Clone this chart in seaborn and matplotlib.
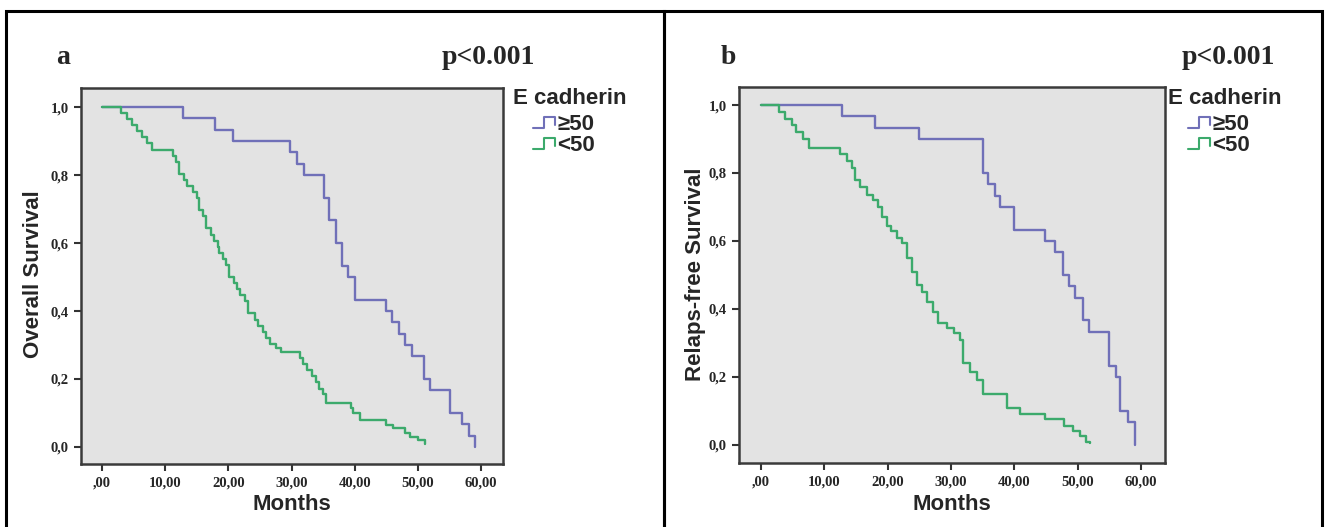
import numpy as np
import pandas as pd
import seaborn as sns
import matplotlib.pyplot as plt
from matplotlib.lines import Line2D
from matplotlib.patches import Rectangle
from matplotlib.legend_handler import HandlerBase

# Panel a: overall survival, E cadherin >=50
os_hi_months = [0, 12.9, 17.9, 20.8, 29.7, 30.9, 32.0, 35.2, 36.0, 37.1, 38.0, 39.0, 40.0,
                44.9, 45.9, 47.0, 48.0, 49.1, 50.9, 51.9, 55.0, 56.9, 58.0, 59.0]
os_hi_surv = [1.0, 0.967, 0.933, 0.9, 0.867, 0.833, 0.8, 0.733, 0.667, 0.6, 0.533, 0.5, 0.433,
              0.4, 0.367, 0.333, 0.3, 0.267, 0.2, 0.167, 0.1, 0.067, 0.033, 0.0]

# Panel a: overall survival, E cadherin <50
os_lo_months = [0, 3.1, 4.0, 4.8, 5.5, 6.3, 7.1, 8.0, 11.2, 11.8, 12.2, 13.0, 13.5, 14.4, 15.0,
                15.4, 16.0, 16.4, 17.2, 17.7, 18.3, 18.6, 19.1, 19.6, 20.1, 20.9, 21.4, 21.8,
                22.6, 23.1, 24.2, 24.7, 25.5, 26.0, 26.6, 27.6, 28.3, 31.3, 31.8, 32.4, 33.3,
                33.8, 34.4, 35.0, 35.4, 39.4, 39.8, 40.8, 45.0, 46.0, 47.9, 48.8, 50.0, 51.1]
os_lo_surv = [1.0, 0.982, 0.964, 0.946, 0.929, 0.911, 0.893, 0.875, 0.857, 0.839, 0.804, 0.786,
              0.768, 0.75, 0.732, 0.696, 0.679, 0.643, 0.625, 0.607, 0.589, 0.571, 0.554, 0.536,
              0.5, 0.482, 0.464, 0.446, 0.429, 0.393, 0.375, 0.357, 0.339, 0.321, 0.304, 0.29,
              0.28, 0.262, 0.244, 0.226, 0.208, 0.19, 0.172, 0.155, 0.13, 0.115, 0.1, 0.08,
              0.065, 0.055, 0.04, 0.03, 0.02, 0.008]

# Panel b: relaps-free survival, E cadherin >=50
rfs_hi_months = [0, 12.8, 18.0, 25.0, 35.0, 35.8, 36.9, 37.8, 40.0, 44.8, 46.4, 47.7, 48.6,
                 49.6, 50.8, 51.8, 54.9, 56.0, 56.7, 57.9, 59.0]
rfs_hi_surv = [1.0, 0.967, 0.933, 0.9, 0.8, 0.767, 0.733, 0.7, 0.633, 0.6, 0.567, 0.5, 0.467,
               0.433, 0.367, 0.333, 0.233, 0.2, 0.1, 0.067, 0.0]

# Panel b: relaps-free survival, E cadherin <50
rfs_lo_months = [0, 2.9, 3.8, 4.9, 5.6, 6.7, 7.5, 12.5, 13.5, 14.3, 14.9, 15.6, 16.7, 17.7,
                 18.5, 19.1, 19.9, 20.6, 21.4, 22.2, 23.0, 23.8, 24.6, 25.4, 26.2, 27.2, 28.0,
                 29.3, 30.4, 31.4, 31.9, 33.0, 34.1, 35.1, 38.8, 40.9, 44.9, 47.8, 49.3, 50.4,
                 51.4, 52.0]
rfs_lo_surv = [1.0, 0.98, 0.96, 0.94, 0.92, 0.9, 0.873, 0.855, 0.835, 0.815, 0.78, 0.76, 0.735,
               0.72, 0.7, 0.67, 0.645, 0.63, 0.61, 0.595, 0.55, 0.51, 0.47, 0.45, 0.42, 0.39,
               0.36, 0.345, 0.33, 0.31, 0.24, 0.215, 0.19, 0.15, 0.11, 0.09, 0.075, 0.055,
               0.04, 0.025, 0.01, 0.005]

groups = ["≥50", "<50"]
colors = ["#7070b8", "#3caa6c"]
x_ticks = [0, 10, 20, 30, 40, 50, 60]
x_tick_labels = [",00", "10,00", "20,00", "30,00", "40,00", "50,00", "60,00"]
y_ticks = [0.0, 0.2, 0.4, 0.6, 0.8, 1.0]
y_tick_labels = ["0,0", "0,2", "0,4", "0,6", "0,8", "1,0"]


def make_df(hi_m, hi_s, lo_m, lo_s):
    a = pd.DataFrame({"Months": hi_m, "Survival": hi_s, "group": groups[0]})
    b = pd.DataFrame({"Months": lo_m, "Survival": lo_s, "group": groups[1]})
    return pd.concat([a, b], ignore_index=True)


class StepHandler(HandlerBase):
    # little step glyph like the SPSS legend
    def create_artists(self, legend, orig_handle, xdescent, ydescent, width, height, fontsize, trans):
        xs = np.array([0, 0.5, 0.5, 1.0, 1.0]) * width - xdescent
        ys = np.array([0.15, 0.15, 0.85, 0.85, 0.3]) * height - ydescent
        line = Line2D(xs, ys, color=orig_handle.get_color(), lw=1.5, transform=trans)
        return [line]


sns.set_style("white")
plt.rcParams['font.family'] = ['Liberation Sans', 'DejaVu Sans']

W, H = 1326, 527
fig = plt.figure(figsize=(W / 100, H / 100), dpi=100)

panels = [
    dict(df=make_df(os_hi_months, os_hi_surv, os_lo_months, os_lo_surv),
         rect=(81, 88, 503, 464), xlim=(-3.3, 63.45), ylim=(-0.05, 1.056),
         letter="a", letter_x=63, p_x=488, ylabel="Overall Survival", ylabel_x=34,
         leg_x=513),
    dict(df=make_df(rfs_hi_months, rfs_hi_surv, rfs_lo_months, rfs_lo_surv),
         rect=(739, 87, 1165, 463), xlim=(-3.48, 63.8), ylim=(-0.053, 1.053),
         letter="b", letter_x=728, p_x=1228, ylabel="Relaps-free Survival", ylabel_x=695,
         leg_x=1168),
]

# panel frames
for x0 in [6, 664]:
    fig.patches.append(Rectangle((x0 / W, -0.05), 658 / W, 1.05 - 11 / H, fill=False,
                                 edgecolor="black", lw=2.2, transform=fig.transFigure))

for p in panels:
    l, t, r, b = p["rect"]
    ax = fig.add_axes([l / W, 1 - b / H, (r - l) / W, (b - t) / H])
    ax.set_facecolor("#e3e3e3")
    sns.lineplot(data=p["df"], x="Months", y="Survival", hue="group", hue_order=groups,
                 palette=colors, drawstyle="steps-post", estimator=None, lw=1.7,
                 legend=False, ax=ax)
    ax.set_xlim(*p["xlim"])
    ax.set_ylim(*p["ylim"])
    ax.set_xticks(x_ticks)
    ax.set_xticklabels(x_tick_labels)
    ax.set_yticks(y_ticks)
    ax.set_yticklabels(y_tick_labels)
    ax.tick_params(direction="out", length=5, width=1.5, color="#333333", pad=4, bottom=True, left=True)
    for lab in ax.get_xticklabels() + ax.get_yticklabels():
        lab.set_fontfamily("Liberation Serif")
        lab.set_fontweight("bold")
        lab.set_fontsize(10.5)
    for sp in ax.spines.values():
        sp.set_color("#3a3a3a")
        sp.set_linewidth(1.8)
    ax.set_xlabel("")
    ax.set_ylabel("")

    cx = (l + r) / 2
    fig.text(cx / W, 1 - 505 / H, "Months", ha="center", va="center", fontsize=16, fontweight="bold")
    fig.text(p["ylabel_x"] / W, 1 - 274 / H, p["ylabel"], ha="center", va="center", rotation=90,
             fontsize=16, fontweight="bold")
    fig.text(p["letter_x"] / W, 1 - 57 / H, p["letter"], ha="center", va="center", fontsize=20,
             fontweight="bold", family="Liberation Serif")
    fig.text(p["p_x"] / W, 1 - 57 / H, "p<0.001", ha="center", va="center", fontsize=20,
             fontweight="bold", family="Liberation Serif")

    fig.text(p["leg_x"] / W, 1 - 98 / H, "E cadherin", ha="left", va="center", fontsize=16,
             fontweight="bold")
    handles = [Line2D([], [], color=c) for c in colors]
    fig.legend(handles, groups, handler_map={Line2D: StepHandler()}, loc="upper left",
               bbox_to_anchor=((p["leg_x"] + 20) / W, 1 - 114 / H), frameon=False,
               prop={"size": 16, "weight": "bold"}, handlelength=1.0, handletextpad=0.1,
               labelspacing=0.0, borderpad=0, borderaxespad=0)

fig.savefig("out.png", dpi=100)
